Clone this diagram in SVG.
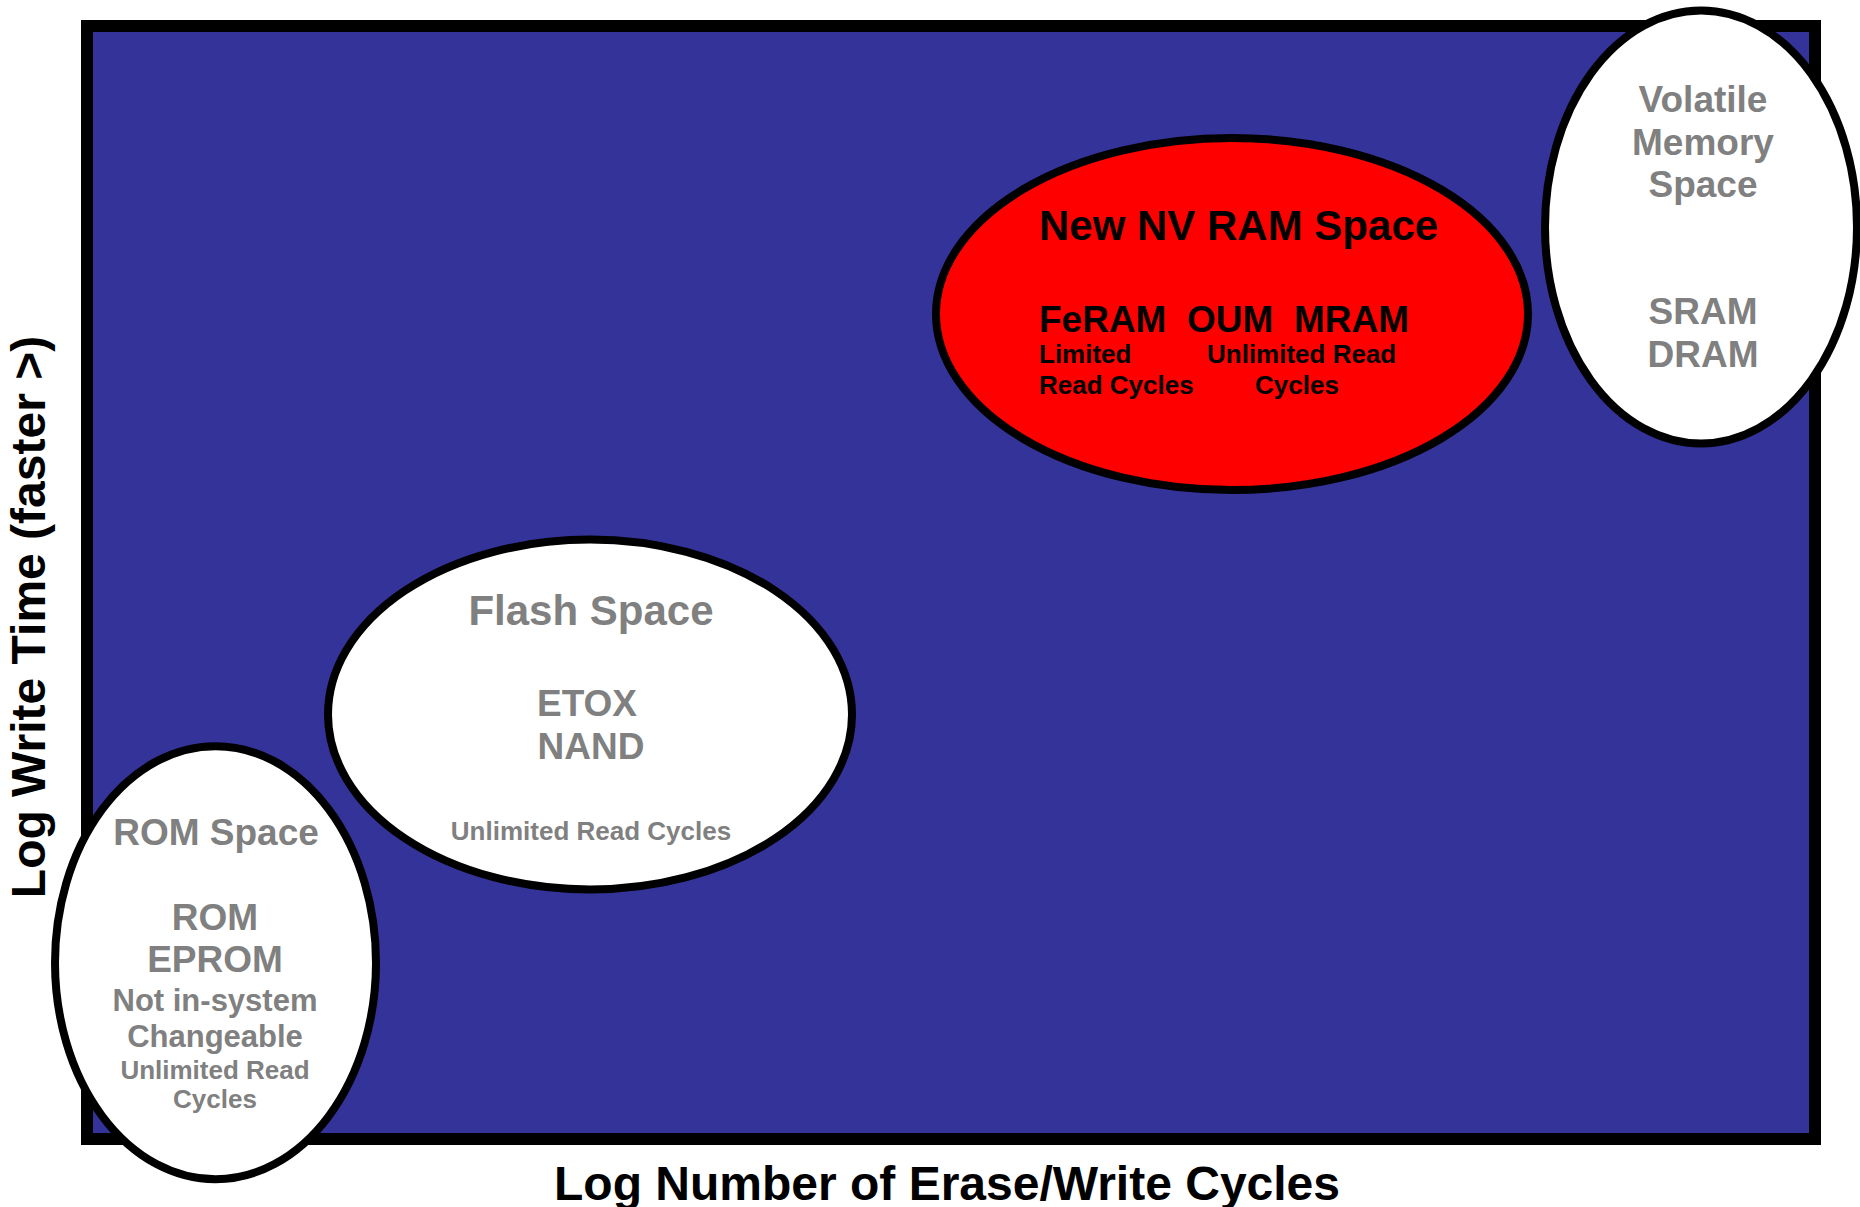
<svg xmlns="http://www.w3.org/2000/svg" width="1860" height="1207" viewBox="0 0 1860 1207">
<style>
text{font-family:"Liberation Sans",Arial,sans-serif;font-weight:bold}
.g{fill:#808080}
.k{fill:#000000}
.c{text-anchor:middle}
.node{stroke:#000000;stroke-width:8}
.w{fill:#ffffff}
</style>
<rect width="1860" height="1207" fill="#ffffff"/>
<g id="plot">
<rect x="87" y="26" width="1728" height="1113" fill="#333399" stroke="#000000" stroke-width="12"/>
</g>
<g id="connectors"/>
<g id="nvram">
<ellipse class="node" cx="1232" cy="314" rx="296" ry="176" fill="#ff0000"/>
<text class="k" x="1039" y="240" font-size="42">New NV RAM Space</text>
<text class="k" x="1039" y="332" font-size="37" xml:space="preserve">FeRAM  OUM  MRAM</text>
<text class="k" x="1039" y="363" font-size="26">Limited</text>
<text class="k" x="1207" y="363" font-size="26">Unlimited Read</text>
<text class="k" x="1039" y="394" font-size="26">Read Cycles</text>
<text class="k" x="1255" y="394" font-size="26">Cycles</text>
</g>
<g id="flash">
<ellipse class="node w" cx="590" cy="714.5" rx="262" ry="175"/>
<text class="g c" x="591" y="625" font-size="42">Flash Space</text>
<text class="g c" x="587" y="716" font-size="37">ETOX</text>
<text class="g c" x="591" y="759" font-size="37">NAND</text>
<text class="g c" x="591" y="840" font-size="26">Unlimited Read Cycles</text>
</g>
<g id="rom">
<ellipse class="node w" cx="215.5" cy="962.7" rx="160.5" ry="216.5"/>
<text class="g c" x="216" y="845" font-size="37">ROM Space</text>
<text class="g c" x="215" y="930" font-size="37">ROM</text>
<text class="g c" x="215" y="972" font-size="37">EPROM</text>
<text class="g c" x="215" y="1011" font-size="31">Not in-system</text>
<text class="g c" x="215" y="1047" font-size="31">Changeable</text>
<text class="g c" x="215" y="1079" font-size="26">Unlimited Read</text>
<text class="g c" x="215" y="1108" font-size="26">Cycles</text>
</g>
<g id="volatile">
<ellipse class="node w" cx="1701" cy="227" rx="156" ry="216.5"/>
<text class="g c" x="1703" y="112" font-size="37">Volatile</text>
<text class="g c" x="1703" y="155" font-size="37">Memory</text>
<text class="g c" x="1703" y="197" font-size="37">Space</text>
<text class="g c" x="1703" y="324" font-size="37">SRAM</text>
<text class="g c" x="1703" y="367" font-size="37">DRAM</text>
</g>
<g id="axes">
<text class="k c" x="947" y="1200" font-size="48">Log Number of Erase/Write Cycles</text>
<text class="k c" transform="translate(45,617) rotate(-90)" x="0" y="0" font-size="48">Log Write Time (faster &gt;)</text>
</g>
</svg>
